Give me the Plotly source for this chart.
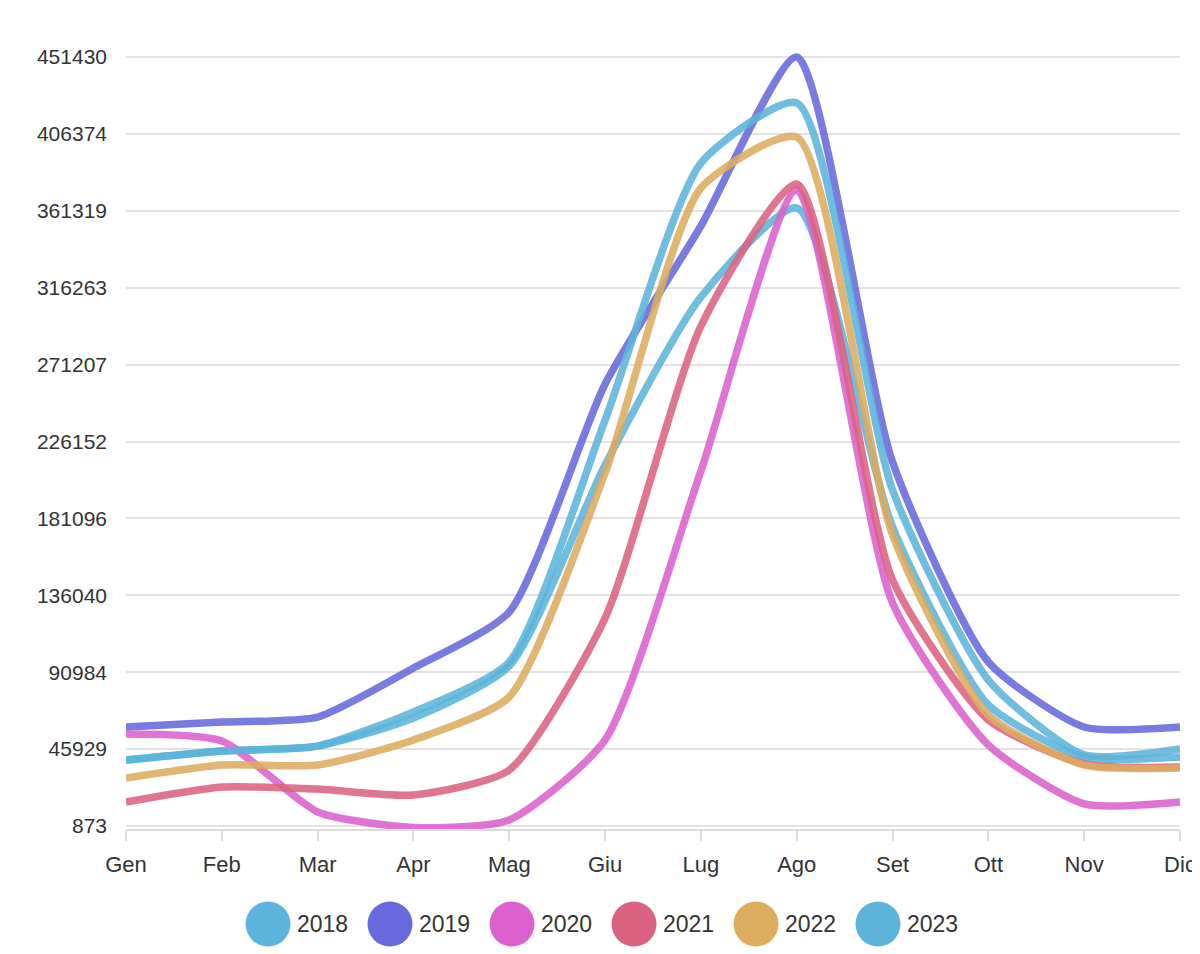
import plotly.graph_objects as go

months = ["Gen", "Feb", "Mar", "Apr", "Mag", "Giu", "Lug", "Ago", "Set", "Ott", "Nov", "Dic"]
years = ["2018", "2019", "2020", "2021", "2022", "2023"]

v2018 = [39500, 44800, 47700, 64100, 94600, 212400, 310800, 363000, 176100, 71800, 41300, 41300]
v2019 = [58900, 61800, 64700, 93400, 126300, 259800, 352400, 451400, 214100, 97000, 58900, 58900]
v2020 = [54800, 50700, 9100, 0, 4400, 51300, 208900, 373500, 131500, 48300, 13800, 15000]
v2021 = [14900, 23700, 22500, 19000, 33700, 122700, 293800, 377000, 145000, 63000, 37200, 35400]
v2022 = [29000, 36600, 36600, 51300, 76500, 207700, 374700, 404500, 171400, 65900, 36600, 34900]
v2023 = [39500, 44800, 47700, 67700, 97000, 238700, 389300, 424500, 197700, 86400, 42500, 46000]

series = [v2018, v2019, v2020, v2021, v2022, v2023]
colors = ["#5cb4db", "#6769dd", "#dc61cf", "#dc6282", "#dcac5f", "#5cb4db"]

ytick_vals = [873, 45929, 90984, 136040, 181096, 226152, 271207, 316263, 361319, 406374, 451430]
ytick_text = [str(v) for v in ytick_vals]

W, H = 1200, 954
ml, mr, mt, mb = 118, 28, 37, 133
pw, ph = W - ml - mr, H - mt - mb

fig = go.Figure()
for name, vals, col in zip(years, series, colors):
    fig.add_trace(go.Scatter(
        x=months, y=vals, name=name, mode="lines",
        line=dict(color=col, width=7.5, shape="spline", smoothing=0.6),
        opacity=0.88, showlegend=False, hoverinfo="x+y+name",
    ))

# custom legend (large circles) below the plot
shapes = []
annotations = []
spacing = 122
r = 22.5
first_center = 260
leg_y = 916
for i, (name, col) in enumerate(zip(years, colors)):
    cx = first_center + i * spacing
    x0 = (cx - r - ml) / pw
    x1 = (cx + r - ml) / pw
    y0 = (H - mb - (leg_y + r)) / ph
    y1 = (H - mb - (leg_y - r)) / ph
    shapes.append(dict(type="circle", xref="paper", yref="paper",
                       x0=x0, x1=x1, y0=y0, y1=y1,
                       fillcolor=col, line=dict(width=0)))
    annotations.append(dict(xref="paper", yref="paper",
                            x=(cx + r + 4 - ml) / pw, y=(H - mb - leg_y) / ph,
                            text=name, showarrow=False, xanchor="left", yanchor="middle",
                            font=dict(size=23, color="#333333")))

fig.update_layout(
    width=W, height=H,
    margin=dict(l=ml, r=mr, t=mt, b=mb),
    paper_bgcolor="white", plot_bgcolor="white",
    font=dict(family="Liberation Sans, Arial, sans-serif", color="#333333"),
    shapes=shapes, annotations=annotations,
    showlegend=False,
)
fig.update_xaxes(
    type="category", range=[0, len(months) - 1],
    showgrid=False, showline=True, linecolor="#dcdcdc", linewidth=2,
    ticks="outside", ticklen=10, tickcolor="#dcdcdc", tickwidth=1.5,
    tickfont=dict(size=22, color="#333333"), ticklabelstandoff=5,
)
fig.update_yaxes(
    range=[-885, 458461], tickvals=ytick_vals, ticktext=ytick_text,
    showgrid=True, gridcolor="#e3e3e3", gridwidth=1.5, zeroline=False,
    showline=False, ticks="", tickfont=dict(size=21, color="#333333"),
    ticklabelstandoff=18,
)

fig.write_html("out.html")
